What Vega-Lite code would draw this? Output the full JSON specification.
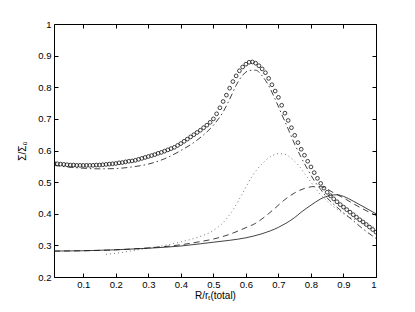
{
  "$schema": "https://vega.github.io/schema/vega-lite/v6.json",
  "width": 322,
  "height": 253,
  "autosize": "none",
  "padding": {"left": 54, "top": 24, "right": 39, "bottom": 35},
  "background": "white",
  "config": {
    "view": {"stroke": null},
    "font": "Liberation Sans",
    "axis": {
      "grid": false,
      "domainColor": "#000",
      "domainWidth": 1,
      "tickColor": "#000",
      "tickWidth": 1,
      "tickSize": -4,
      "labelFont": "Liberation Sans",
      "labelFontSize": 9.5,
      "labelColor": "#000",
      "titleFont": "Liberation Sans",
      "titleFontSize": 10,
      "titleFontWeight": "normal",
      "titleColor": "#000"
    }
  },
  "datasets": {
    "circles": [
      {"x":0.01,"y":0.560},{"x":0.02,"y":0.558},{"x":0.03,"y":0.557},{"x":0.04,"y":0.556},{"x":0.05,"y":0.555},
      {"x":0.06,"y":0.554},{"x":0.07,"y":0.554},{"x":0.08,"y":0.553},{"x":0.09,"y":0.553},{"x":0.10,"y":0.553},
      {"x":0.11,"y":0.553},{"x":0.12,"y":0.553},{"x":0.13,"y":0.553},{"x":0.14,"y":0.554},{"x":0.15,"y":0.554},
      {"x":0.16,"y":0.555},{"x":0.17,"y":0.556},{"x":0.18,"y":0.557},{"x":0.19,"y":0.558},{"x":0.20,"y":0.559},
      {"x":0.21,"y":0.561},{"x":0.22,"y":0.562},{"x":0.23,"y":0.564},{"x":0.24,"y":0.566},{"x":0.25,"y":0.567},
      {"x":0.26,"y":0.569},{"x":0.27,"y":0.572},{"x":0.28,"y":0.575},{"x":0.29,"y":0.578},{"x":0.30,"y":0.581},
      {"x":0.31,"y":0.584},{"x":0.32,"y":0.587},{"x":0.33,"y":0.591},{"x":0.34,"y":0.594},{"x":0.35,"y":0.598},
      {"x":0.36,"y":0.602},{"x":0.37,"y":0.606},{"x":0.38,"y":0.610},{"x":0.39,"y":0.616},{"x":0.40,"y":0.622},
      {"x":0.41,"y":0.629},{"x":0.42,"y":0.636},{"x":0.43,"y":0.643},{"x":0.44,"y":0.650},{"x":0.45,"y":0.657},
      {"x":0.46,"y":0.664},{"x":0.47,"y":0.672},{"x":0.48,"y":0.680},{"x":0.49,"y":0.689},{"x":0.50,"y":0.700},
      {"x":0.51,"y":0.716},{"x":0.52,"y":0.735},{"x":0.53,"y":0.755},{"x":0.54,"y":0.775},{"x":0.55,"y":0.797},
      {"x":0.56,"y":0.818},{"x":0.57,"y":0.836},{"x":0.58,"y":0.852},{"x":0.59,"y":0.864},{"x":0.60,"y":0.873},
      {"x":0.61,"y":0.879},{"x":0.62,"y":0.880},{"x":0.63,"y":0.876},{"x":0.64,"y":0.868},{"x":0.65,"y":0.858},
      {"x":0.66,"y":0.846},{"x":0.67,"y":0.828},{"x":0.68,"y":0.808},{"x":0.69,"y":0.788},{"x":0.70,"y":0.768},
      {"x":0.71,"y":0.743},{"x":0.72,"y":0.718},{"x":0.73,"y":0.695},{"x":0.74,"y":0.672},{"x":0.75,"y":0.648},
      {"x":0.76,"y":0.625},{"x":0.77,"y":0.604},{"x":0.78,"y":0.585},{"x":0.79,"y":0.566},{"x":0.80,"y":0.548},
      {"x":0.81,"y":0.530},{"x":0.82,"y":0.512},{"x":0.83,"y":0.496},{"x":0.84,"y":0.481},{"x":0.85,"y":0.468},
      {"x":0.86,"y":0.457},{"x":0.87,"y":0.447},{"x":0.88,"y":0.438},{"x":0.89,"y":0.429},{"x":0.90,"y":0.421},
      {"x":0.91,"y":0.413},{"x":0.92,"y":0.405},{"x":0.93,"y":0.397},{"x":0.94,"y":0.389},{"x":0.95,"y":0.381},
      {"x":0.96,"y":0.374},{"x":0.97,"y":0.366},{"x":0.98,"y":0.358},{"x":0.99,"y":0.350},{"x":1.00,"y":0.342}
    ],
    "dashdot": [
      {"x":0.01,"y":0.553},{"x":0.05,"y":0.548},{"x":0.1,"y":0.544},{"x":0.15,"y":0.542},{"x":0.2,"y":0.543},
      {"x":0.25,"y":0.548},{"x":0.3,"y":0.557},{"x":0.35,"y":0.574},{"x":0.4,"y":0.6},{"x":0.45,"y":0.633},
      {"x":0.5,"y":0.68},{"x":0.53,"y":0.722},{"x":0.55,"y":0.762},{"x":0.57,"y":0.806},{"x":0.59,"y":0.838},
      {"x":0.61,"y":0.853},{"x":0.63,"y":0.854},{"x":0.65,"y":0.836},{"x":0.67,"y":0.805},{"x":0.69,"y":0.762},
      {"x":0.71,"y":0.715},{"x":0.73,"y":0.668},{"x":0.75,"y":0.62},{"x":0.77,"y":0.578},{"x":0.79,"y":0.54},
      {"x":0.81,"y":0.505},{"x":0.83,"y":0.477},{"x":0.85,"y":0.45},{"x":0.87,"y":0.43},{"x":0.9,"y":0.403},
      {"x":0.93,"y":0.378},{"x":0.96,"y":0.352},{"x":1.0,"y":0.322}
    ],
    "dotted": [
      {"x":0.17,"y":0.272},{"x":0.2,"y":0.275},{"x":0.25,"y":0.283},{"x":0.3,"y":0.291},{"x":0.35,"y":0.3},
      {"x":0.4,"y":0.311},{"x":0.45,"y":0.325},{"x":0.5,"y":0.347},{"x":0.53,"y":0.372},{"x":0.56,"y":0.412},
      {"x":0.59,"y":0.465},{"x":0.62,"y":0.52},{"x":0.65,"y":0.558},{"x":0.68,"y":0.583},{"x":0.7,"y":0.59},
      {"x":0.72,"y":0.588},{"x":0.74,"y":0.575},{"x":0.76,"y":0.555},{"x":0.78,"y":0.528},{"x":0.8,"y":0.5},
      {"x":0.82,"y":0.472},{"x":0.85,"y":0.44},{"x":0.9,"y":0.4},{"x":0.95,"y":0.375},{"x":1.0,"y":0.355}
    ],
    "dashed": [
      {"x":0.01,"y":0.282},{"x":0.1,"y":0.283},{"x":0.2,"y":0.286},{"x":0.3,"y":0.292},{"x":0.4,"y":0.302},
      {"x":0.46,"y":0.312},{"x":0.5,"y":0.32},{"x":0.55,"y":0.335},{"x":0.6,"y":0.356},{"x":0.63,"y":0.37},
      {"x":0.66,"y":0.392},{"x":0.69,"y":0.418},{"x":0.72,"y":0.445},{"x":0.75,"y":0.466},{"x":0.78,"y":0.48},
      {"x":0.81,"y":0.486},{"x":0.83,"y":0.486},{"x":0.85,"y":0.478},{"x":0.87,"y":0.466},{"x":0.9,"y":0.45},
      {"x":0.93,"y":0.432},{"x":0.96,"y":0.415},{"x":1.0,"y":0.395}
    ],
    "solid": [
      {"x":0.01,"y":0.282},{"x":0.1,"y":0.283},{"x":0.2,"y":0.286},{"x":0.3,"y":0.291},{"x":0.4,"y":0.298},
      {"x":0.46,"y":0.305},{"x":0.5,"y":0.31},{"x":0.55,"y":0.316},{"x":0.6,"y":0.324},{"x":0.65,"y":0.337},
      {"x":0.7,"y":0.357},{"x":0.72,"y":0.368},{"x":0.75,"y":0.388},{"x":0.77,"y":0.405},{"x":0.8,"y":0.427},
      {"x":0.83,"y":0.447},{"x":0.86,"y":0.458},{"x":0.88,"y":0.46},{"x":0.9,"y":0.455},{"x":0.93,"y":0.44},
      {"x":0.96,"y":0.423},{"x":1.0,"y":0.40}
    ]
  },
  "resolve": {"axis": {"x": "independent", "y": "independent"}},
  "layer": [
    {
      "data": {"name": "circles"},
      "mark": {"type": "point", "shape": "circle", "filled": false, "size": 14, "stroke": "#111", "strokeWidth": 0.8, "opacity": 1, "clip": true},
      "encoding": {
        "x": {"field": "x", "type": "quantitative",
              "scale": {"domain": [0.01, 1], "nice": false, "zero": false},
              "axis": {"orient": "bottom", "values": [0.1,0.2,0.3,0.4,0.5,0.6,0.7,0.8,0.9,1], "format": "~g", "labelPadding": 6, "title": "R/rₜ(total)", "titlePadding": 2}},
        "y": {"field": "y", "type": "quantitative",
              "scale": {"domain": [0.2, 1], "nice": false, "zero": false},
              "axis": {"orient": "left", "values": [0.2,0.3,0.4,0.5,0.6,0.7,0.8,0.9,1], "format": "~g", "labelPadding": 7, "title": "Σ/Σ₀", "titlePadding": 10}}
      }
    },
    {
      "data": {"name": "dashdot"},
      "mark": {"type": "line", "stroke": "#111", "strokeWidth": 0.8, "strokeDash": [6, 3, 1.5, 3], "interpolate": "monotone", "clip": true},
      "encoding": {
        "x": {"field": "x", "type": "quantitative", "axis": null},
        "y": {"field": "y", "type": "quantitative", "axis": null}
      }
    },
    {
      "data": {"name": "dotted"},
      "mark": {"type": "line", "stroke": "#555", "strokeWidth": 0.8, "strokeDash": [1, 3], "interpolate": "monotone", "clip": true},
      "encoding": {
        "x": {"field": "x", "type": "quantitative", "axis": null},
        "y": {"field": "y", "type": "quantitative", "axis": null}
      }
    },
    {
      "data": {"name": "dashed"},
      "mark": {"type": "line", "stroke": "#111", "strokeWidth": 0.8, "strokeDash": [6, 4], "interpolate": "monotone", "clip": true},
      "encoding": {
        "x": {"field": "x", "type": "quantitative", "axis": null},
        "y": {"field": "y", "type": "quantitative", "axis": null}
      }
    },
    {
      "data": {"name": "solid"},
      "mark": {"type": "line", "stroke": "#111", "strokeWidth": 0.8, "interpolate": "monotone", "clip": true},
      "encoding": {
        "x": {"field": "x", "type": "quantitative",
              "axis": {"orient": "top", "values": [0.1,0.2,0.3,0.4,0.5,0.6,0.7,0.8,0.9,1], "labels": false, "title": null}},
        "y": {"field": "y", "type": "quantitative",
              "axis": {"orient": "right", "values": [0.2,0.3,0.4,0.5,0.6,0.7,0.8,0.9,1], "labels": false, "title": null}}
      }
    }
  ]
}
